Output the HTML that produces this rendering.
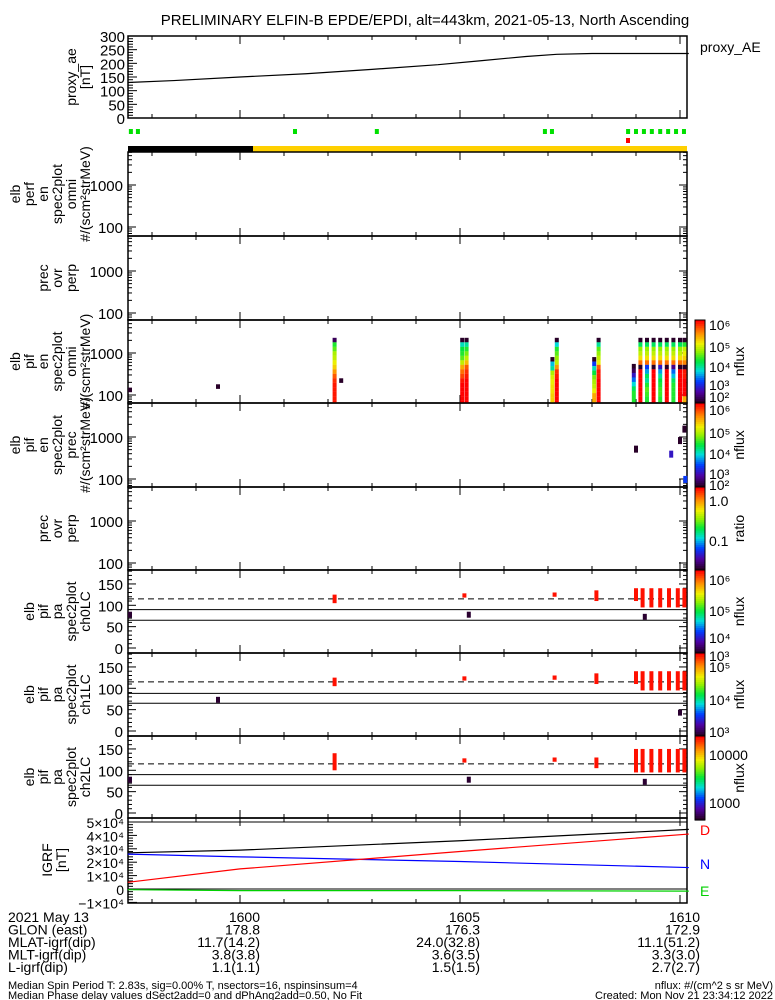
<!DOCTYPE html>
<html><head><meta charset="utf-8"><style>
html,body{margin:0;padding:0;background:#fff}
svg{display:block;font-family:"Liberation Sans",sans-serif}
text{font-family:"Liberation Sans",sans-serif;fill:#000}
</style></head><body>
<svg id="c" width="775" height="1000" viewBox="0 0 775 1000"></svg>
<script>
// ---------- data ----------
const aeTimes=[1597.45,1598.5,1600,1601.5,1603,1604.5,1605.5,1606.5,1607.2,1608,1610.2];
const aeValues=[130,137,150,162,178,195,210,225,233,236,236];
const sciTimes=[1597.52,1597.68,1601.25,1603.11,1606.93,1607.09,1608.82,1609.0,1609.18,1609.36,1609.55,1609.73,1609.91,1610.09];
const colTimes=[1597.5,1599.5,1602.15,1602.3,1605.05,1605.15,1607.1,1607.2,1608.05,1608.15,1608.95,1609.1,1609.25,1609.4,1609.55,1609.7,1609.85,1610.0,1610.1];
const colTopE=[150,180,2300,250,2300,2300,800,2300,800,2300,550,2300,2300,2300,2300,2300,2300,2300,2300];
const colFlux=[[1.5],[1.5],[2,4,4.2,4.5,4.6,4.8,5,5.3,5.6,5.8,5.9,5.9,5.9,5.9],[1.5],[1.5,3.5,3.9,4.0,4.2,4.6,5.2,5.5,5.7,5.9,6,6,6,6,6],[1.5,3.6,4,4.3,4.6,5.1,5.6,5.8,5.9,6,6,6,6,6,6],[1.5,3.3,3.6,4.5,4.7,4.8,4.9,4.9,5],[1.5,3.4,4,4.2,4.4,4.6,5.3,5.8,5.9,6,6,6,6,6,6],[1.5,2.8,3.5,3.9,4.3,4.5,4.6,4.8,5.2],[1.5,3.6,4.2,4.4,4.6,4.8,5.6,5.9,5.9,6,6,6,6,6,6],[1.5,2,2.5,3,3.4,3.8,4],[1.5,3.8,4.4,4.6,4.9,5.5,1.5,6,6,6,6,6,6,6],[1.5,3.8,4.4,4.6,4.9,5.5,2.8,3.2,3.8,3.6,4,4.2,4.1,4],[1.5,3.8,4.4,4.6,4.9,5.5,1.5,6,6,6,6,6,6,6],[1.5,3.8,4.4,4.6,4.9,5.5,2.5,3.2,3.6,3.9,4,4.1,4.1,4],[1.5,3.8,4.4,4.6,4.9,5.5,1.5,6,6,6,6,6,6,6],[1.5,3.8,4.4,4.6,4.9,5.5,2.2,3,3.3,3.8,4,4,4,4],[1.5,3.8,4.4,4.6,4.9,5.5,1.5,6,6,6,6,6,6,6],[1.5,4,4.6,4.8,5,5.4,1.8,5.9,5.9,6,6,6,6,5.2]];
const precTimes=[1609.0,1609.8,1610.0,1610.1,1610.12];
const precE=[500,380,800,1500,95];
const precFlux=[1.8,2.5,1.6,1.5,2.8];
const paTimes=[1602.15,1605.1,1607.15,1608.1,1609.0,1609.15,1609.35,1609.55,1609.75,1609.95,1610.1];
const paTop=[[125,125,140],[128,128,128],[130,130,130],[135,135,130],[140,140,150],[140,140,150],[140,140,150],[140,140,150],[140,140,150],[140,140,150],[140,140,150]];
const paBot=[[105,105,100],[118,118,118],[120,120,120],[110,110,105],[110,110,95],[95,95,95],[95,95,95],[95,95,95],[95,95,95],[95,95,95],[95,95,95]];
const paLines=[[115,90,65],[115,88,65],[115,90,65]];
const dTimes=[1597.45,1600,1605,1610.2];
const dVals=[27000,29000,36000,44500];
const nVals=[26000,24000,20500,16000];
const rVals=[5000,15000,28000,41000];
const gVals=[-500,-1200,-1200,-1600];
const xTicks=[1600,1605,1610];
// ---------- helpers ----------
const S=document.getElementById('c');const NS='http://www.w3.org/2000/svg';
function el(t,a,p){const e=document.createElementNS(NS,t);for(const k in a)e.setAttribute(k,a[k]);(p||S).appendChild(e);return e}
function tx(x,y,s,sz,anchor,rot,fill){const a={x:x,y:y,'font-size':sz||14,'text-anchor':anchor||'start'};if(rot)a.transform=`rotate(-90 ${x} ${y})`;if(fill)a.fill=fill;const e=el('text',a);e.textContent=s;if(fill)e.style.fill=fill;return e}
const X0=128,X1=687;
const X=t=>240+(t-1600)*44;
function rainbow(v){
 const stops=[[0,[40,0,40]],[0.12,[80,0,160]],[0.25,[0,60,255]],[0.38,[0,220,220]],[0.5,[0,230,60]],[0.62,[150,240,0]],[0.72,[240,240,0]],[0.85,[255,140,0]],[1,[255,0,0]]];
 v=Math.max(0,Math.min(1,v));for(let i=1;i<stops.length;i++){if(v<=stops[i][0]){const a=stops[i-1],b=stops[i],f=(v-a[0])/(b[0]-a[0]);return`rgb(${a[1].map((c,j)=>Math.round(c+(b[1][j]-c)*f)).join(',')})`}}return'rgb(255,0,0)'}
function frame(y0,y1,name){const g=el('g',{});el('rect',{x:X0,y:y0,width:X1-X0,height:y1-y0,fill:'none',stroke:'#000','stroke-width':1.5},g);
 for(let m=1598;m<=1610;m++){el('line',{x1:X(m),x2:X(m),y1:y1,y2:y1-4,stroke:'#000'},g);el('line',{x1:X(m),x2:X(m),y1:y0,y2:y0+4,stroke:'#000'},g)}
 xTicks.forEach(t=>{el('line',{x1:X(t),x2:X(t),y1:y1,y2:y1-8,stroke:'#000'},g);el('line',{x1:X(t),x2:X(t),y1:y0,y2:y0+8,stroke:'#000'},g)});return g}
function logAxis(y0,y1,ylog,g,labels){for(let d=1;d<4;d++)for(let k=1;k<10;k++){const v=Math.pow(10,d)*k;const y=ylog(v);if(y<y0||y>y1)continue;const L=k==1?8:4;el('line',{x1:X0,x2:X0+L,y1:y,y2:y,stroke:'#000'},g);el('line',{x1:X1,x2:X1-L,y1:y,y2:y,stroke:'#000'},g)}
 if(labels)[100,1000].forEach(v=>{tx(X0-5,ylog(v)+6,String(v),15,'end')})}
function vlabel(x,ymid,lines,sz){lines.forEach((s,i)=>tx(x+i*14,ymid,s,sz||14,'middle',true))}
tx(425,25,'PRELIMINARY ELFIN-B EPDE/EPDI, alt=443km, 2021-05-13, North Ascending',15,'middle');
// ---------- AE panel ----------
{const y0=36,y1=118,Y=v=>118-v*(82/300);const g=frame(y0,y1,'proxy-ae-panel');
 for(let v=0;v<=300;v+=10){const L=v%50==0?9:5;el('line',{x1:X0,x2:X0+L,y1:Y(v),y2:Y(v),stroke:'#000'},g)}
 [0,50,100,150,200,250,300].forEach(v=>tx(X0-3,Y(v)+6,String(v),15,'end'));
 vlabel(76,77,['proxy_ae','[nT]'],14);
 el('polyline',{points:aeTimes.map((t,i)=>X(t)+','+Y(aeValues[i])).join(' '),fill:'none',stroke:'#000','stroke-width':1.2,},g);
 tx(700,52,'proxy_AE',14);}
sciTimes.forEach(t=>{const r=el('rect',{x:X(t)-2,y:129,width:4,height:5,fill:'#00e000'});});
el('rect',{x:626,y:138,width:4,height:5,fill:'#ff0000',});
el('rect',{x:X0,y:146,width:125,height:6,fill:'#000',});
el('rect',{x:X0+125,y:146,width:X1-X0-125,height:6,fill:'#ffd000',});
// ---------- spectrogram panels ----------
const panels=[[152,236,'perf-omni-panel',['elb','perf','en','spec2plot','omni','#/(scm²strMeV)']],[236,320,'perf-prec-ovr-perp-panel',['prec','ovr','perp']],[320,403,'pif-omni-panel',['elb','pif','en','spec2plot','omni','#/(scm²strMeV)']],[403,487,'pif-prec-panel',['elb','pif','en','spec2plot','prec','#/(scm²strMeV)']],[487,570,'pif-ratio-panel',['prec','ovr','perp']]];
panels.forEach((p,i)=>{const [y0,y1,name,lab]=p;const base=[185,271,353,437,521][i];const ylog=v=>base-(Math.log10(v)-3)*42;const g=frame(y0,y1,name);logAxis(y0,y1,ylog,g,true);
 const n=lab.length;vlabel(20+(6-n)*14+(n==3?-14:0),(y0+y1)/2,lab,14);
 if(i==2){colTimes.forEach((t,c)=>{const vals=colFlux[c];const top=ylog(colTopE[c]);vals.forEach((v,k)=>{const yy=top+k*4.5;if(yy>y1-1)return;const r=el('rect',{x:X(t)-2,y:yy,width:4,height:Math.min(4.6,y1-yy),fill:rainbow((v-1.8)/4.2)},g);});
  const last=top+vals.length*4.5;if(vals.length>3&&last<y1)el('rect',{x:X(t)-2,y:last,width:4,height:y1-last,fill:rainbow((vals[vals.length-1]-1.8)/4.2)},g)})}
 if(i==3){precTimes.forEach((t,c)=>{const r=el('rect',{x:X(t)-2,y:ylog(precE[c])-4,width:4,height:7,fill:rainbow((precFlux[c]-1.8)/4.2)},g);})}
});
// ---------- pitch angle panels ----------
const paPanels=[[570,653,'pa-ch0lc-panel','ch0LC'],[653,736,'pa-ch1lc-panel','ch1LC'],[736,818,'pa-ch2lc-panel','ch2LC']];
paPanels.forEach((p,i)=>{const [y0,y1,name,ch]=p;const Y=v=>y1-5-v*0.427;const g=frame(y0,y1,name);
 for(let v=0;v<=180;v+=10){if(Y(v)<y0)continue;const L=v%50==0?8:4;el('line',{x1:X0,x2:X0+L,y1:Y(v),y2:Y(v),stroke:'#000'},g);el('line',{x1:X1,x2:X1-L,y1:Y(v),y2:Y(v),stroke:'#000'},g)}
 [0,50,100,150].forEach(v=>tx(X0-5,Y(v)+6,String(v),15,'end'));
 vlabel(34,(y0+y1)/2,['elb','pif','pa','spec2plot',ch],14);
 el('line',{x1:X0,x2:X1,y1:Y(paLines[i][0]),y2:Y(paLines[i][0]),stroke:'#000','stroke-dasharray':'6,4'},g);
 el('line',{x1:X0,x2:X1,y1:Y(paLines[i][1]),y2:Y(paLines[i][1]),stroke:'#000'},g);
 el('line',{x1:X0,x2:X1,y1:Y(paLines[i][2]),y2:Y(paLines[i][2]),stroke:'#000'},g);
 paTimes.forEach((t,c)=>{const r=el('rect',{x:X(t)-2,y:Y(paTop[c][i]),width:4,height:Y(paBot[c][i])-Y(paTop[c][i]),fill:'#ff1000'},g);});
 [[1597.5,85],[1599.5,80],[1609.2,80],[1610.0,50],[1605.2,85]].forEach((d,k)=>{if((k+i)%2==0)el('rect',{x:X(d[0])-2,y:Y(d[1]),width:4,height:6,fill:'#2a0030'},g)});
});
// ---------- IGRF ----------
{const y0=818,y1=903,Y=v=>889-v*0.00134;const g=frame(y0,y1,'igrf-panel');
 for(let v=-10000;v<=50000;v+=2000){el('line',{x1:X0,x2:X0+(v%10000==0?9:5),y1:Y(v),y2:Y(v),stroke:'#000'},g)}
 [[50000,'5×10⁴'],[40000,'4×10⁴'],[30000,'3×10⁴'],[20000,'2×10⁴'],[10000,'1×10⁴'],[0,'0'],[-10000,'−1×10⁴']].forEach(a=>tx(X0-4,Y(a[0])+6,a[1],14,'end'));
 vlabel(52,860,['IGRF','[nT]'],14);
 el('line',{x1:X0,x2:X1,y1:Y(0),y2:Y(0),stroke:'#000'},g);
 el('line',{x1:X0,x2:X1,y1:Y(50000),y2:Y(50000),stroke:'#000'},g);
 [[dVals,'#000','igrf-d'],[nVals,'#0000ff','igrf-n'],[rVals,'#ff0000','igrf-r'],[gVals,'#00d000','igrf-e']].forEach(s=>{const l=el('polyline',{points:dTimes.map((t,i)=>X(t)+','+Y(s[0][i])).join(' '),fill:'none',stroke:s[1],'stroke-width':1.2},g);});
 tx(700,835,'D',14,'start',false,'#ff0000');tx(700,869,'N',14,'start',false,'#0000ff');tx(700,896,'E',14,'start',false,'#00d000');}
// ---------- colorbars ----------
function cbar(y0,y1,labels,title,name){const g=el('g',{});const n=40;for(let k=0;k<n;k++)el('rect',{x:695,y:y0+(y1-y0)*k/n,width:10,height:(y1-y0)/n+0.6,fill:rainbow(1-k/(n-1))},g);el('rect',{x:695,y:y0,width:10,height:y1-y0,fill:'none',stroke:'#000'},g);labels.forEach(l=>tx(709,l[0],l[1],14));tx(744,(y0+y1)/2,title,14,'middle',true)}
cbar(320,403,[[330,'10⁶'],[352,'10⁵'],[372,'10⁴'],[390,'10³'],[402,'10²']],'nflux','cbar-omni');
cbar(403,487,[[415,'10⁶'],[438,'10⁵'],[459,'10⁴'],[479,'10³'],[490,'10²']],'nflux','cbar-prec');
cbar(487,570,[[506,'1.0'],[546,'0.1']],'ratio','cbar-ratio');
cbar(570,653,[[585,'10⁶'],[616,'10⁵'],[643,'10⁴'],[661,'10³']],'nflux','cbar-ch0');
cbar(653,736,[[672,'10⁵'],[705,'10⁴'],[737,'10³']],'nflux','cbar-ch1');
cbar(736,820,[[760,'10000'],[808,'1000']],'nflux','cbar-ch2');
// ---------- bottom text ----------
const rows=[['2021 May 13','1600','1605','1610'],['GLON (east)','178.8','176.3','172.9'],['MLAT-igrf(dip)','11.7(14.2)','24.0(32.8)','11.1(51.2)'],['MLT-igrf(dip)','3.8(3.8)','3.6(3.5)','3.3(3.0)'],['L-igrf(dip)','1.1(1.1)','1.5(1.5)','2.7(2.7)']];
rows.forEach((r,i)=>{const y=922+i*12.5;tx(8,y,r[0],14);xTicks.forEach((t,j)=>tx(X(t)+20,y,r[j+1],14,'end'))});
tx(8,989,'Median Spin Period T: 2.83s, sig=0.00% T, nsectors=16, nspinsinsum=4',11);
tx(8,999,'Median Phase delay values dSect2add=0 and dPhAng2add=0.50, No Fit',11);
tx(773,989,'nflux: #/(cm^2 s sr MeV)',11,'end');
tx(773,999,'Created: Mon Nov 21 23:34:12 2022',11,'end');
</script>
</body></html>
